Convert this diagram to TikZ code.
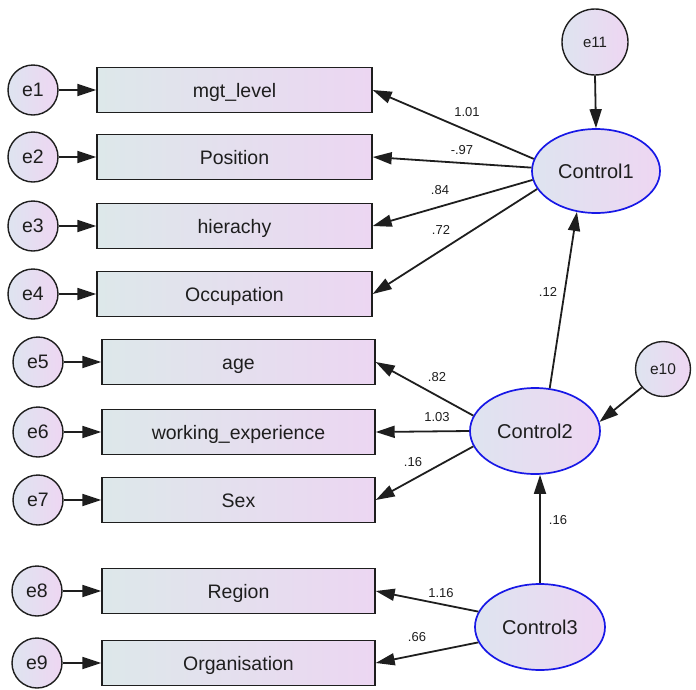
\documentclass[tikz,border=0pt]{standalone}
\usepackage{fontspec}
\setmainfont{Liberation Sans}
\usetikzlibrary{shapes.geometric,arrows.meta}
\definecolor{boxL}{RGB}{221,232,234}
\definecolor{boxR}{RGB}{236,214,242}
\definecolor{latL}{RGB}{222,228,240}
\definecolor{latR}{RGB}{238,214,242}
\definecolor{latBorder}{RGB}{24,24,230}
\definecolor{ink}{RGB}{30,30,30}

\begin{document}
\begin{tikzpicture}[x=1pt,y=-1pt,
  obsbox/.style={draw=ink, line width=1.4pt, left color=boxL, right color=boxR,
    minimum height=45pt, inner sep=0pt, text=ink, text height=14pt, text depth=0pt,
    font=\fontsize{19.5}{20}\selectfont},
  errc/.style={circle, draw=ink, line width=1.4pt, left color=latL, right color=latR,
    minimum size=50pt, inner sep=0pt, text=ink, font=\fontsize{19.5}{20}\selectfont},
  latent/.style={ellipse, draw=latBorder, line width=1.7pt, left color=latL, right color=latR,
    inner sep=0pt, text=ink, font=\fontsize{20}{21}\selectfont},
  reg/.style={line width=1.8pt, draw=ink, -{Triangle[length=19pt,width=12pt]}},
  coef/.style={font=\fontsize{13}{14}\selectfont, text=ink, inner sep=0pt}
]
\useasboundingbox (0,0) rectangle (696,689);

% indicator boxes
\node[obsbox, minimum width=275pt] (b1) at (234.5,90) {mgt\_level};
\node[obsbox, minimum width=275pt] (b2) at (234.5,157) {Position};
\node[obsbox, minimum width=275pt] (b3) at (234.5,226) {hierachy};
\node[obsbox, minimum width=275pt] (b4) at (234.5,294) {Occupation};
\node[obsbox, minimum width=273pt] (b5) at (238.5,362) {age};
\node[obsbox, minimum width=273pt] (b6) at (238.5,432) {working\_experience};
\node[obsbox, minimum width=273pt] (b7) at (238.5,500) {Sex};
\node[obsbox, minimum width=273pt] (b8) at (238.5,591) {Region};
\node[obsbox, minimum width=273pt] (b9) at (238.5,663) {Organisation};

% error terms of the indicators
\node[errc] (e1) at (33,90) {e1};
\node[errc] (e2) at (33,157) {e2};
\node[errc] (e3) at (33,226) {e3};
\node[errc] (e4) at (33,294) {e4};
\node[errc] (e5) at (38,362) {e5};
\node[errc] (e6) at (38,432) {e6};
\node[errc] (e7) at (38,500) {e7};
\node[errc] (e8) at (37,591) {e8};
\node[errc] (e9) at (37,663) {e9};

% latent variables
\node[latent, minimum width=128pt, minimum height=84pt] (c1) at (596,171) {Control1};
\node[latent, minimum width=130pt, minimum height=86pt] (c2) at (535,431) {Control2};
\node[latent, minimum width=130pt, minimum height=86pt] (c3) at (540,627) {Control3};

% disturbances
\node[errc, minimum size=66pt, font=\fontsize{15}{16}\selectfont] (e11) at (595,42) {e11};
\node[errc, minimum size=55pt, font=\fontsize{15.5}{16}\selectfont] (e10) at (663,369) {e10};

% error arrows
\foreach \i in {1,...,9}{
  \draw[reg] (e\i.east) -- (b\i.west);
}
\draw[reg] (e11.south) -- (c1.north);
\draw[reg] (e10.221) -- (c2.8);

% loadings of Control1
\draw[reg] (c1.169) -- (b1.east);
\draw[reg] (c1.177) -- (b2.east);
\draw[reg] (c1.188) -- (b3.east);
\draw[reg] (c1.197) -- (b4.east);
% loadings of Control2
\draw[reg] (c2.166) -- (b5.east);
\draw[reg] (c2.west) -- (b6.east);
\draw[reg] (c2.194) -- (b7.east);
% loadings of Control3
\draw[reg] (c3.166) -- (b8.east);
\draw[reg] (c3.194) -- (b9.east);

% structural paths
\draw[reg] (c2.71) -- (c1.245);
\draw[reg] (c3.north) -- (c3.north |- c2.south);

% coefficients
\node[coef] (k1) at (467,112) {1.01};
\node[coef] (k2) at (462,150) {-.97};
\node[coef] (k3) at (440,190) {.84};
\node[coef] (k4) at (441,230) {.72};
\node[coef] (k5) at (548,292) {.12};
\node[coef] (k6) at (437,377) {.82};
\node[coef] (k7) at (437,417) {1.03};
\node[coef] (k8) at (413,462) {.16};
\node[coef] (k9) at (558,520) {.16};
\node[coef] (k10) at (441,593) {1.16};
\node[coef] (k11) at (417,637) {.66};
\end{tikzpicture}
\end{document}
